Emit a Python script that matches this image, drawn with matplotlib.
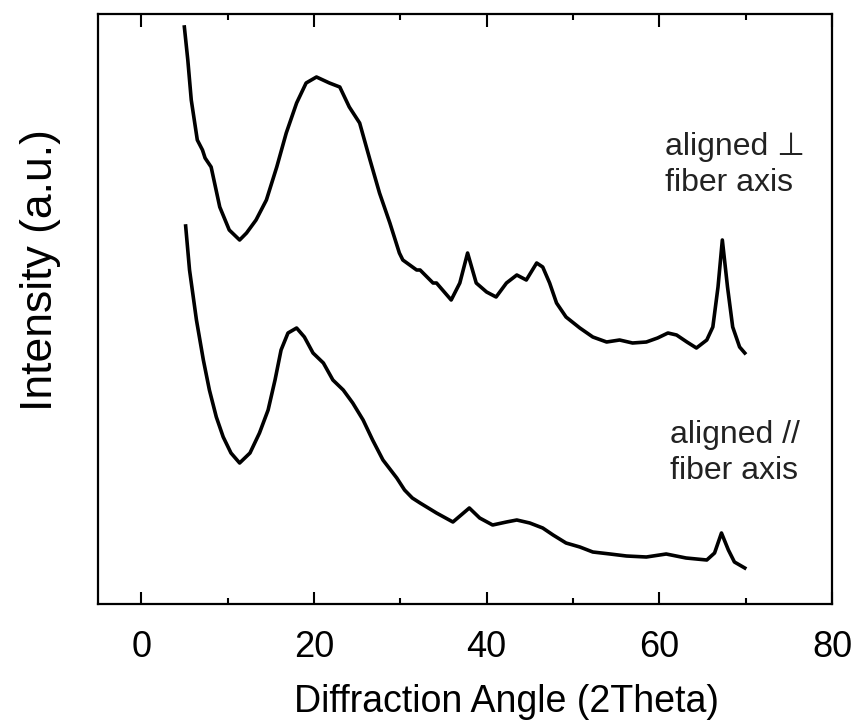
import matplotlib
matplotlib.use("Agg")
import matplotlib.pyplot as plt
from matplotlib.ticker import MultipleLocator, NullLocator

# XRD scans, intensity in arbitrary units
perp_angle = [5.0, 5.4, 5.8, 6.5, 6.8, 7.1, 7.4, 8.1, 9.1, 10.2, 11.4, 12.2,
              13.3, 14.5, 15.7, 16.8, 18.0, 19.1, 20.3, 21.8, 23.0, 24.1,
              25.3, 26.5, 27.6, 28.8, 29.9, 30.3, 31.9, 32.3, 33.8, 34.2,
              35.9, 36.9, 37.8, 38.8, 40.0, 41.1, 42.3, 43.5, 44.6, 45.8,
              46.5, 47.3, 48.1, 49.2, 50.8, 52.3, 53.9, 55.4, 56.9, 58.5,
              59.8, 61.0, 62.0, 63.2, 64.3, 65.5, 66.2, 66.8, 67.3, 67.9,
              68.5, 69.3, 69.9]
perp_int = [577, 544, 504, 464, 459, 454, 446, 437, 397, 374, 364, 371,
            384, 404, 437, 471, 501, 521, 527, 521, 517, 497,
            481, 444, 411, 381, 351, 344, 334, 334, 321, 321,
            304, 321, 351, 321, 312, 307, 321, 329, 324, 341,
            337, 321, 301, 287, 276, 267, 262, 264, 261, 262,
            266, 271, 269, 262, 256, 264, 277, 317, 364, 317,
            277, 257, 251]

para_angle = [5.15, 5.6, 6.4, 7.2, 7.9, 8.7, 9.5, 10.4, 11.4, 12.6, 13.7,
              14.7, 15.5, 16.2, 17.0, 18.0, 18.9, 19.9, 21.1, 22.2, 23.4,
              24.5, 25.7, 26.8, 28.0, 29.6, 30.5, 31.4, 32.3, 34.2, 36.1,
              38.0, 39.2, 40.7, 42.3, 43.5, 45.0, 46.5, 47.7, 49.2, 50.8,
              52.3, 54.3, 56.2, 58.5, 60.8, 63.1, 65.5, 66.4, 67.2, 68.0,
              68.7, 69.9]
para_int = [378, 334, 284, 244, 214, 187, 167, 151, 141, 151, 171,
            194, 224, 254, 271, 276, 267, 251, 241, 224, 214,
            201, 184, 164, 144, 126, 114, 106, 101, 91, 82,
            96, 86, 79, 82, 84, 81, 76, 69, 61, 57,
            52, 50, 48, 47, 50, 46, 44, 51, 71, 54,
            42, 36]

FONT = ["Liberation Sans", "DejaVu Sans"]
plt.rcParams["font.family"] = FONT

fig = plt.figure(figsize=(8.59, 7.21), dpi=100)
ax = fig.add_axes([98 / 859, 1 - 604 / 721, 734 / 859, 590 / 721])

ax.plot(perp_angle, perp_int, color="black", linewidth=2.6)
ax.plot(para_angle, para_int, color="black", linewidth=2.6)

ax.set_xlim(-5, 80)
ax.set_ylim(0, 590)

ax.xaxis.set_major_locator(MultipleLocator(20))
ax.xaxis.set_minor_locator(MultipleLocator(10))
ax.yaxis.set_major_locator(NullLocator())
ax.yaxis.set_minor_locator(NullLocator())
ax.tick_params(axis="x", which="both", direction="in", top=True,
               labelsize=26, pad=19, width=1.5)
ax.tick_params(axis="x", which="major", length=9)
ax.tick_params(axis="x", which="minor", length=4.5)
for sp in ax.spines.values():
    sp.set_linewidth(1.6)

ax.set_xlabel("Diffraction Angle (2Theta)", fontsize=27)
ax.set_ylabel("Intensity (a.u.)", fontsize=32)
ax.xaxis.set_label_coords(0.557, -0.135)
ax.yaxis.set_label_coords(-0.050, 0.566)

ax.text(60.7, 439, "aligned \u22a5\nfiber axis", fontsize=23, ha="left",
        va="center", linespacing=1.25, color="#222222")
ax.text(61.2, 151, "aligned //\nfiber axis", fontsize=23, ha="left",
        va="center", linespacing=1.25, color="#222222")

fig.savefig("out.png", dpi=100)
